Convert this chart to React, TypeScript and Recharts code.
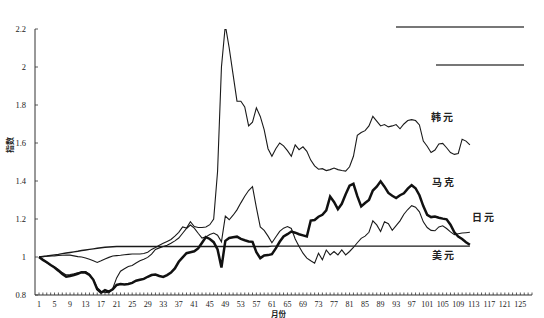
import { LineChart, Line, XAxis, YAxis } from "recharts";

// 月份 1..112
const months = Array.from({ length: 112 }, (_, i) => i + 1);

// x 轴刻度：每月一个小刻度，每 4 个月一个标签
const xMinorTicks = Array.from({ length: 128 }, (_, i) => i + 1);
const xTickLabels = [1, 5, 9, 13, 17, 21, 25, 29, 33, 37, 41, 45, 49, 53, 57, 61, 65, 69, 73, 77, 81, 85, 89, 93, 97, 101, 105, 109, 113, 117, 121, 125];
const yTicks = [0.8, 1, 1.2, 1.4, 1.6, 1.8, 2, 2.2];

const krw = [
  1.0, 1.002, 1.004, 1.005, 1.006, 1.008, 1.009, 1.01, 1.01, 1.006,
  1.002, 1.0, 0.995, 0.988, 0.98, 0.971, 0.98, 0.99, 0.998, 1.005,
  1.007, 1.009, 1.012, 1.014, 1.016, 1.016, 1.016, 1.018, 1.025, 1.04,
  1.05, 1.062, 1.072, 1.082, 1.092, 1.11, 1.13, 1.158, 1.152, 1.186,
  1.16, 1.155, 1.155, 1.158, 1.17, 1.2, 1.45, 2.0, 2.22, 2.1,
  1.96, 1.82, 1.82, 1.79, 1.69, 1.71, 1.785, 1.74, 1.67, 1.57,
  1.53, 1.57, 1.6, 1.585, 1.56, 1.53, 1.59, 1.565, 1.58, 1.556,
  1.51, 1.48, 1.462, 1.465, 1.455, 1.46, 1.468, 1.46, 1.455, 1.452,
  1.475, 1.53, 1.64, 1.655, 1.665, 1.69, 1.74, 1.715, 1.69, 1.697,
  1.685, 1.69, 1.697, 1.675, 1.7, 1.718, 1.723, 1.718, 1.695, 1.61,
  1.583, 1.55, 1.563, 1.595, 1.598, 1.575, 1.55, 1.54, 1.545, 1.62,
  1.61, 1.59,
];

const dem = [
  1.0, 0.985, 0.972, 0.958, 0.945, 0.928, 0.91, 0.896, 0.9, 0.905,
  0.912, 0.92, 0.918, 0.905, 0.88, 0.83, 0.812, 0.825, 0.818, 0.83,
  0.853, 0.858, 0.855, 0.858, 0.864, 0.875, 0.88, 0.885, 0.896, 0.905,
  0.908, 0.9, 0.895, 0.905, 0.918, 0.94, 0.975, 0.998, 1.02, 1.025,
  1.03, 1.045, 1.075, 1.105, 1.095, 1.078, 1.04, 0.945, 1.085, 1.1,
  1.104, 1.107, 1.095, 1.088, 1.082, 1.08, 1.025, 0.994, 1.008, 1.01,
  1.015, 1.045, 1.08, 1.108, 1.12, 1.134, 1.128, 1.12, 1.114, 1.108,
  1.192, 1.195, 1.212, 1.222, 1.245, 1.318, 1.29, 1.252, 1.28, 1.33,
  1.375, 1.385, 1.32, 1.266, 1.284, 1.3, 1.35, 1.37, 1.398, 1.37,
  1.337, 1.322, 1.31, 1.325, 1.335, 1.36, 1.378, 1.362, 1.325, 1.268,
  1.222, 1.21, 1.213, 1.207, 1.202, 1.198, 1.17, 1.13, 1.108, 1.095,
  1.078, 1.064,
];

const jpy = [
  1.0, 0.985, 0.97, 0.958, 0.948, 0.935, 0.918, 0.906, 0.908, 0.912,
  0.917, 0.921, 0.923, 0.91, 0.88, 0.838, 0.82, 0.814, 0.812, 0.835,
  0.89, 0.925, 0.938, 0.95, 0.955, 0.968, 0.98, 0.988, 0.998, 1.015,
  1.04, 1.048, 1.055, 1.062, 1.072, 1.085, 1.1, 1.125, 1.15, 1.168,
  1.152, 1.125, 1.1, 1.106, 1.118, 1.126, 1.115, 1.08, 1.215, 1.196,
  1.22, 1.248, 1.285, 1.32, 1.35, 1.37, 1.26, 1.158, 1.14, 1.11,
  1.075, 1.105, 1.135, 1.152, 1.16, 1.15, 1.095, 1.055, 1.02, 0.994,
  0.98, 0.967, 1.02, 0.985, 1.037, 1.011, 1.029, 1.011, 1.037, 1.011,
  1.029, 1.05, 1.075, 1.098, 1.11, 1.13, 1.19, 1.169, 1.134, 1.185,
  1.175, 1.14, 1.165, 1.19, 1.225, 1.25, 1.27, 1.262, 1.238, 1.185,
  1.155, 1.14, 1.138, 1.158, 1.164, 1.15, 1.132, 1.118, 1.122, 1.126,
  1.128, 1.13,
];

const usd = [
  1.0, 1.003, 1.005, 1.008, 1.011, 1.014, 1.018, 1.021, 1.024, 1.027,
  1.03, 1.034, 1.037, 1.04, 1.043, 1.046, 1.049, 1.051, 1.053, 1.054,
  1.055, 1.055, 1.055, 1.055, 1.055, 1.055, 1.055, 1.055, 1.055, 1.055,
  1.055, 1.055, 1.055, 1.055, 1.055, 1.055, 1.055, 1.055, 1.055, 1.055,
  1.055, 1.055, 1.055, 1.055, 1.055, 1.055, 1.055, 1.055, 1.055, 1.055,
  1.055, 1.055, 1.055, 1.055, 1.055, 1.055, 1.055, 1.055, 1.055, 1.055,
  1.057, 1.057, 1.057, 1.057, 1.057, 1.057, 1.057, 1.057, 1.057, 1.057,
  1.057, 1.057, 1.057, 1.057, 1.057, 1.057, 1.057, 1.057, 1.057, 1.057,
  1.057, 1.057, 1.057, 1.057, 1.057, 1.057, 1.057, 1.057, 1.057, 1.057,
  1.057, 1.057, 1.057, 1.057, 1.057, 1.057, 1.057, 1.057, 1.057, 1.057,
  1.057, 1.057, 1.057, 1.057, 1.057, 1.057, 1.057, 1.057, 1.057, 1.057,
  1.057, 1.057,
];

const data = months.map((m, i) => ({ month: m, krw: krw[i], dem: dem[i], jpy: jpy[i], usd: usd[i] }));

const serif = "'Liberation Serif', 'DejaVu Serif', serif";
const cjk = "'Noto Sans CJK SC', sans-serif";
const labelSet = new Set(xTickLabels);

const XTick = ({ x, y, payload }: any) => (
  <g>
    <line x1={x} x2={x} y1={y} y2={y - 2.5} stroke="#333" strokeWidth={0.8} />
    {labelSet.has(payload.value) && (
      <text x={x} y={y + 11.5} textAnchor="middle" fontSize={8} fontFamily={serif} fill="#222">
        {payload.value}
      </text>
    )}
  </g>
);

const YTick = ({ x, y, payload }: any) => (
  <g>
    <line x1={x} x2={x + 3} y1={y} y2={y} stroke="#333" strokeWidth={0.8} />
    <text x={x - 9} y={y + 3} textAnchor="end" fontSize={8.5} fontFamily={serif} fill="#222">
      {String(payload.value)}
    </text>
  </g>
);

const seriesName = (text: string, left: number, top: number) => (
  <div
    style={{
      position: "absolute",
      left,
      top,
      fontFamily: cjk,
      fontSize: 10,
      fontWeight: 700,
      letterSpacing: 2,
      color: "#222",
      lineHeight: "10px",
      whiteSpace: "nowrap",
    }}
  >
    {text}
  </div>
);

export default function App() {
  return (
    <div style={{ position: "absolute", left: 0, top: 0, width: 544, height: 318, background: "#fff", overflow: "hidden" }}>
      <LineChart width={544} height={318} data={data} margin={{ top: 29, right: 12, bottom: 0, left: 0 }}>
        <XAxis
          dataKey="month"
          type="number"
          domain={[1, 128]}
          ticks={xMinorTicks}
          interval={0}
          tickSize={0}
          tickMargin={0}
          tick={<XTick />}
          stroke="#333"
          padding={{ left: 4, right: 0 }}
          height={23}
        />
        <YAxis
          type="number"
          domain={[0.8, 2.2]}
          ticks={yTicks}
          interval={0}
          tickSize={0}
          tickMargin={0}
          tick={<YTick />}
          stroke="#333"
          width={35}
          allowDataOverflow
        />
        <Line dataKey="usd" stroke="#1a1a1a" strokeWidth={1.4} dot={false} isAnimationActive={false} />
        <Line dataKey="krw" stroke="#1a1a1a" strokeWidth={1.1} dot={false} isAnimationActive={false} />
        <Line dataKey="jpy" stroke="#1a1a1a" strokeWidth={1.1} dot={false} isAnimationActive={false} />
        <Line dataKey="dem" stroke="#111" strokeWidth={2.5} dot={false} isAnimationActive={false} />
      </LineChart>

      {/* 图例线（原图无文字） */}
      <div style={{ position: "absolute", left: 396, top: 26, width: 128, height: 1.5, background: "#777" }} />
      <div style={{ position: "absolute", left: 436, top: 64, width: 88, height: 1.5, background: "#777" }} />

      {seriesName("韩元", 431, 112)}
      {seriesName("马克", 432, 177)}
      {seriesName("日元", 472, 212)}
      {seriesName("美元", 432, 250)}

      <div
        style={{
          position: "absolute",
          left: 6,
          top: 153,
          fontFamily: cjk,
          fontSize: 8,
          fontWeight: 700,
          color: "#222",
          transform: "rotate(-90deg)",
          transformOrigin: "left top",
          whiteSpace: "nowrap",
          lineHeight: "8px",
        }}
      >
        指数
      </div>
      <div
        style={{
          position: "absolute",
          left: 271,
          top: 310,
          fontFamily: cjk,
          fontSize: 7.5,
          fontWeight: 700,
          color: "#222",
          lineHeight: "8px",
          whiteSpace: "nowrap",
        }}
      >
        月份
      </div>
    </div>
  );
}
